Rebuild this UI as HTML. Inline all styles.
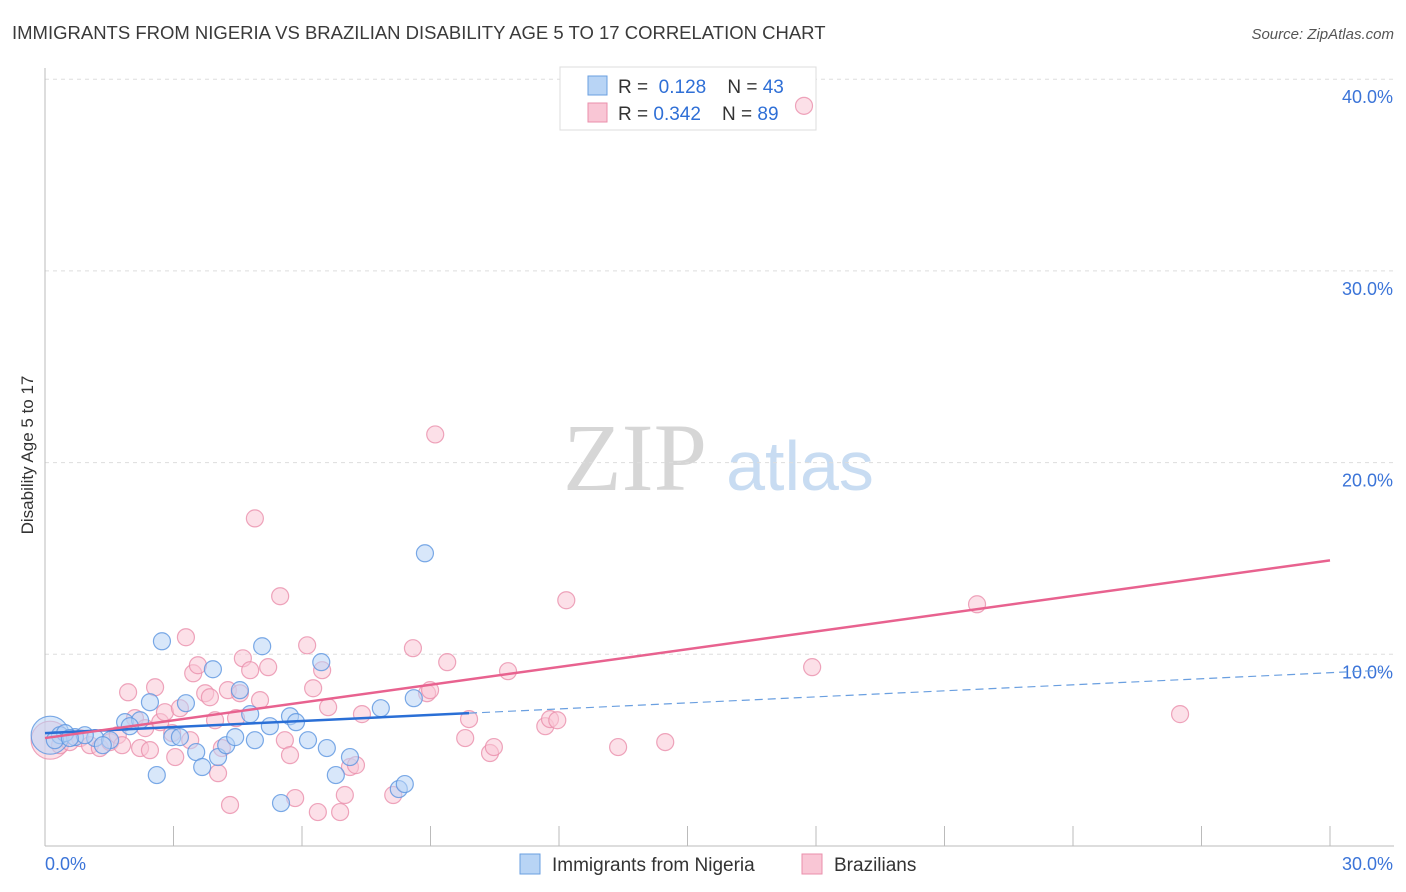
<!DOCTYPE html>
<html><head><meta charset="utf-8"><style>
body{margin:0;background:#fff;font-family:"Liberation Sans",sans-serif;}
svg{display:block}
</style></head><body>
<svg id="chart" width="1406" height="892">
<text x="12" y="39" font-size="18.5" fill="#3a3a3a">IMMIGRANTS FROM NIGERIA VS BRAZILIAN DISABILITY AGE 5 TO 17 CORRELATION CHART</text>
<text x="1394" y="39" font-size="15" fill="#555" text-anchor="end" font-style="italic">Source: ZipAtlas.com</text>
<text x="33" y="455" font-size="17" fill="#333" text-anchor="middle" transform="rotate(-90 33 455)">Disability Age 5 to 17</text>
<g><text x="635" y="490" font-size="96" fill="#d6d6d6" text-anchor="middle" font-family="Liberation Serif,serif">ZIP</text><text x="800" y="490" font-size="70" fill="#c8dcf2" text-anchor="middle">atlas</text></g>
<g id="grid"></g><g id="axes"></g>
<g>
<rect x="560" y="67" width="256" height="63" fill="#fff" stroke="#ddd"/>
<rect x="588" y="76" width="19" height="19" fill="#b8d4f5" stroke="#6a9fe0"/>
<rect x="588" y="103" width="19" height="19" fill="#f9c6d5" stroke="#ea8fab"/>
<text x="618" y="93" font-size="19" fill="#333">R = <tspan fill="#2f6fd6">&#160;0.128</tspan>&#160;&#160;&#160;&#160;N = <tspan fill="#2f6fd6">43</tspan></text>
<text x="618" y="120" font-size="19" fill="#333">R = <tspan fill="#2f6fd6">0.342</tspan>&#160;&#160;&#160;&#160;N = <tspan fill="#2f6fd6">89</tspan></text>
</g>
<g id="pts"></g><g id="lines"></g>
<g>
<rect x="520" y="854" width="20" height="20" fill="#b8d4f5" stroke="#6a9fe0"/>
<text x="552" y="871" font-size="19" fill="#333">Immigrants from Nigeria</text>
<rect x="802" y="854" width="20" height="20" fill="#f9c6d5" stroke="#ea8fab"/>
<text x="834" y="871" font-size="19" fill="#333">Brazilians</text>
</g>
</svg>
<script>
const yTicks=[10,20,30,40];
const yTickLabels=["10.0%","20.0%","30.0%","40.0%"];
const xEnds=["0.0%","30.0%"];
const nigeriaX=[0.12,0.35,0.70,1.17,1.52,1.87,2.22,2.45,2.73,2.61,2.97,3.15,3.29,3.53,3.67,3.92,4.04,4.23,4.44,4.55,4.79,4.90,5.07,5.25,5.51,5.72,5.86,6.14,6.45,6.58,6.79,7.12,7.84,8.26,8.40,8.61,8.87,1.35,0.93,1.98,0.47,0.23,0.58];
const nigeriaY=[5.78,5.78,5.68,5.63,5.52,6.46,6.56,7.50,10.68,3.70,5.68,5.68,7.45,4.90,4.12,9.22,4.64,5.26,5.68,8.13,6.88,5.52,10.42,6.25,2.24,6.77,6.46,5.52,9.59,5.11,3.70,4.64,7.19,2.97,3.23,7.71,15.27,5.26,5.78,6.25,5.89,5.52,5.63];
const brazX=[0.12,0.35,0.58,0.82,1.05,1.28,1.52,1.70,1.80,1.94,2.10,2.22,2.34,2.45,2.57,2.69,2.80,2.97,3.04,3.15,3.29,3.39,3.46,3.57,3.74,3.85,3.97,4.04,4.13,4.27,4.32,4.46,4.55,4.62,4.79,4.90,5.02,5.21,5.49,5.60,5.72,5.84,6.12,6.26,6.37,6.47,6.61,6.89,7.00,7.12,7.26,7.40,8.13,8.59,8.92,8.99,9.11,9.39,9.81,9.90,10.39,10.48,10.81,11.68,11.79,11.96,12.17,13.38,14.48,17.72,17.91,21.76,26.50];
const brazY=[5.52,5.26,5.42,5.63,5.26,5.11,5.42,5.78,5.26,8.02,6.67,5.11,6.15,5.00,8.28,6.46,6.98,5.89,4.64,7.19,10.89,5.52,9.01,9.43,7.97,7.76,6.56,3.80,5.11,8.13,2.14,6.67,7.97,9.79,9.17,17.09,7.61,9.33,13.03,5.52,4.74,2.50,10.47,8.23,1.77,9.17,7.24,1.77,2.66,4.12,4.22,6.88,2.66,10.32,7.97,8.13,21.47,9.59,5.63,6.62,4.85,5.16,9.12,6.25,6.62,6.56,12.82,5.16,5.42,38.61,9.33,12.61,6.88];
const nigeriaFit=[5.89,0.105];
const brazFit=[5.63,0.309];
const NS="http://www.w3.org/2000/svg";
const X=v=>45+v/30*1285, Y=v=>846-v*19.17;
function mk(t,a,p){const e=document.createElementNS(NS,t);for(const k in a)e.setAttribute(k,a[k]);document.getElementById(p).appendChild(e);return e;}
yTicks.forEach((t,i)=>{
 const g=mk('line',{x1:45,x2:1394,y1:Y(t),y2:Y(t),stroke:'#ddd','stroke-dasharray':'4,4'},'grid');
 
 
 const l=mk('text',{x:1393,y:Y(t)+24,'font-size':18,fill:'#3b74d8','text-anchor':'end'},'axes');l.textContent=yTickLabels[i];
 
 
});
mk('line',{x1:45,x2:45,y1:68,y2:846,stroke:'#bbb'},'axes');
mk('line',{x1:45,x2:1394,y1:846,y2:846,stroke:'#bbb'},'axes');
for(let i=1;i<=10;i++){mk('line',{x1:X(i*3),x2:X(i*3),y1:826,y2:846,stroke:'#bbb'},'axes');}
[[xEnds[0],45,'start'],[xEnds[1],1393,'end']].forEach(a=>{const t=mk('text',{x:a[1],y:870,'font-size':18,fill:'#3b74d8','text-anchor':a[2]},'axes');t.textContent=a[0];
 
 });
function pts(xs,ys,fill,stroke,name){xs.forEach((x,i)=>{const c=mk('circle',{cx:X(x),cy:Y(ys[i]),r:i===0?19:8.5,fill:fill,'fill-opacity':0.55,stroke:stroke,'stroke-width':1.2,'stroke-opacity':0.8},'pts');
 
 });}
pts(brazX,brazY,'#f9c6d5','#ea8fab','brazilian-point');
pts(nigeriaX,nigeriaY,'#b8d4f5','#5b95e0','nigeria-point');
const nl=mk('line',{x1:X(0),y1:Y(nigeriaFit[0]),x2:X(9.9),y2:Y(nigeriaFit[0]+nigeriaFit[1]*9.9),stroke:'#2a6fd6','stroke-width':2.5},'lines');


const nd=mk('line',{x1:X(9.9),y1:Y(nigeriaFit[0]+nigeriaFit[1]*9.9),x2:X(31.2),y2:Y(nigeriaFit[0]+nigeriaFit[1]*31.2),stroke:'#6a9fe0','stroke-width':1.2,'stroke-dasharray':'8,5'},'lines');


const bl=mk('line',{x1:X(0),y1:Y(brazFit[0]),x2:X(30),y2:Y(brazFit[0]+brazFit[1]*30),stroke:'#e8628f','stroke-width':2.5},'lines');


</script>
</body></html>
